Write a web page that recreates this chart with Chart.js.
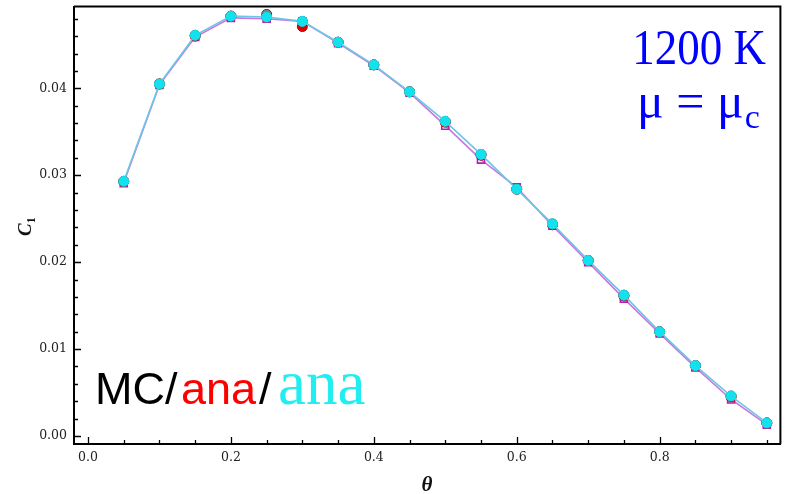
<!DOCTYPE html>
<html>
<head>
<meta charset="utf-8">
<script src="https://cdn.jsdelivr.net/npm/chart.js@4.4.0/dist/chart.umd.min.js"></script>
<style>
    html, body { margin: 0; padding: 0; background: #fff; }
    #wrap { width: 787px; height: 494px; }
</style>
</head>
<body>
<div id="wrap"><canvas id="c1Chart"></canvas></div>
<script>
// theta values and the four curves
const thetaValues = [0.05, 0.10, 0.15, 0.20, 0.25, 0.30, 0.35, 0.40, 0.45, 0.50,
                     0.55, 0.60, 0.65, 0.70, 0.75, 0.80, 0.85, 0.90, 0.95];
const anaCyanValues = [0.0293, 0.0405, 0.0461, 0.0483, 0.0482, 0.0477, 0.0453, 0.0427, 0.0396, 0.0362,
                       0.0324, 0.0284, 0.0244, 0.0202, 0.0162, 0.0120, 0.0081, 0.0046, 0.0015];
const anaRedValues = [0.0293, 0.0405, 0.0460, 0.0483, 0.0482, 0.0471, 0.0453, 0.0427, 0.0396, 0.0361,
                      0.0323, 0.0284, 0.0243, 0.0202, 0.0161, 0.0120, 0.0081, 0.0045, 0.0015];
const mcValues = [0.0293, 0.0405, 0.0461, 0.0483, 0.0485, 0.0477, 0.0453, 0.0427, 0.0396, 0.0362,
                  0.0324, 0.0284, 0.0244, 0.0202, 0.0162, 0.0120, 0.0081, 0.0046, 0.0015];
const squareValues = [0.0291, 0.0404, 0.0459, 0.0481, 0.0480, 0.0477, 0.0452, 0.0426, 0.0395, 0.0357,
                      0.0318, 0.0286, 0.0242, 0.0200, 0.0158, 0.0118, 0.0079, 0.0042, 0.0013];
const xTickValues = [0.0, 0.2, 0.4, 0.6, 0.8];
const yTickValues = [0.00, 0.01, 0.02, 0.03, 0.04];

function toPoints(values) {
    return thetaValues.map((t, i) => ({ x: t, y: values[i] }));
}

// inward ticks, frame and the text overlays
const decorPlugin = {
    id: 'decor',
    afterDraw(chart) {
        const ctx = chart.ctx;
        const area = chart.chartArea;
        const xs = chart.scales.x;
        const ys = chart.scales.y;

        ctx.save();
        ctx.strokeStyle = '#000';
        ctx.lineWidth = 2;
        ctx.beginPath();
        ctx.moveTo(area.left, area.top);
        ctx.lineTo(area.right, area.top);
        ctx.lineTo(area.right, area.bottom);
        ctx.stroke();

        ctx.lineWidth = 1.3;
        ctx.beginPath();
        for (let i = 0; i <= 19; i++) {
            const v = i * 0.05;
            const px = Math.round(xs.getPixelForValue(v)) + 0.5;
            const len = (i % 4 === 0) ? 7 : 4;
            ctx.moveTo(px, area.bottom);
            ctx.lineTo(px, area.bottom - len);
        }
        for (let i = 0; i <= 24; i++) {
            const v = i * 0.002;
            const py = Math.round(ys.getPixelForValue(v)) + 0.5;
            const len = (i % 5 === 0) ? 7 : 4;
            ctx.moveTo(area.left - 1, py);
            ctx.lineTo(area.left + len, py);
        }
        ctx.stroke();

        // axis titles
        ctx.fillStyle = '#111';
        ctx.save();
        ctx.translate(31, 228);
        ctx.rotate(-Math.PI / 2);
        ctx.font = 'italic bold 19px "Liberation Serif"';
        ctx.textBaseline = 'alphabetic';
        ctx.fillText('C', -8, 0);
        const cw = ctx.measureText('C').width;
        ctx.font = 'bold 12px "Liberation Serif"';
        ctx.fillText('1', -8 + cw, 4);
        ctx.restore();

        ctx.font = 'italic bold 21px "Liberation Serif"';
        ctx.textAlign = 'center';
        ctx.fillText('\u03b8', 427, 491);

        // temperature label
        ctx.fillStyle = '#0000ff';
        ctx.save();
        ctx.translate(766, 64);
        ctx.scale(1, 1.12);
        ctx.font = '45px "Liberation Serif"';
        ctx.textAlign = 'right';
        ctx.fillText('1200 K', 0, 0);
        ctx.restore();

        ctx.textAlign = 'left';
        ctx.font = '50px "Liberation Serif"';
        const muText = '\u03bc = \u03bc';
        ctx.fillText(muText, 637, 118);
        const muW = ctx.measureText(muText).width;
        ctx.font = '34px "Liberation Serif"';
        ctx.fillText('c', 637 + muW + 1, 128);

        // MC/ana/ana label
        const base = 404;
        const parts = [
            ['MC/', '#000', '45px "Liberation Sans"', 95],
            ['ana', '#ff0000', '45px "Liberation Sans"', 181],
            ['/', '#000', '45px "Liberation Sans"', 259],
            ['ana', '#22eef2', '63px "Liberation Serif"', 278]
        ];
        parts.forEach(p => {
            ctx.font = p[2];
            ctx.fillStyle = p[1];
            ctx.fillText(p[0], p[3], base);
        });
        ctx.restore();
    }
};

new Chart(document.getElementById('c1Chart'), {
    type: 'scatter',
    data: {
        datasets: [
            {
                label: 'ana (cyan)',
                data: toPoints(anaCyanValues),
                showLine: true,
                borderColor: '#6cc6e6',
                borderWidth: 1.6,
                pointStyle: 'circle',
                pointRadius: 5,
                pointBackgroundColor: '#12e2ee',
                pointBorderColor: '#12e2ee',
                pointBorderWidth: 1,
                order: 0
            },
            {
                label: 'ana (red)',
                data: toPoints(anaRedValues),
                showLine: false,
                pointRadius: 5,
                pointBackgroundColor: '#e00000',
                pointBorderColor: '#c00000',
                order: 1
            },
            {
                label: 'MC',
                data: toPoints(mcValues),
                showLine: false,
                pointRadius: 5,
                pointBackgroundColor: '#8a8a8a',
                pointBorderColor: '#333',
                pointBorderWidth: 1,
                order: 2
            },
            {
                label: 'squares',
                data: toPoints(squareValues),
                showLine: true,
                borderColor: '#c878dc',
                borderWidth: 1.6,
                pointStyle: 'rect',
                pointRadius: 5,
                pointBackgroundColor: 'rgba(255,255,255,0)',
                pointBorderColor: '#b81cb8',
                pointBorderWidth: 1.6,
                order: 3
            }
        ]
    },
    options: {
        responsive: true,
        maintainAspectRatio: false,
        animation: false,
        layout: { padding: { top: 6, right: 6, left: 0, bottom: 0 } },
        plugins: {
            legend: { display: false },
            tooltip: { enabled: false }
        },
        scales: {
            x: {
                type: 'linear',
                min: -0.0196,
                max: 0.969,
                afterBuildTicks: s => { s.ticks = xTickValues.map(v => ({ value: v })); },
                afterFit: s => { s.height = 50; s.paddingLeft = 0; s.paddingRight = 0; },
                grid: { display: false, drawTicks: false },
                border: { display: true, color: '#000', width: 2 },
                ticks: {
                    padding: 6,
                    color: '#222',
                    font: { family: 'DejaVu Serif', size: 12.5 },
                    callback: v => v.toFixed(1)
                }
            },
            y: {
                type: 'linear',
                min: -0.00092,
                max: 0.0494,
                afterBuildTicks: s => { s.ticks = yTickValues.map(v => ({ value: v })); },
                afterFit: s => { s.width = 74; s.paddingTop = 0; s.paddingBottom = 0; },
                grid: { display: false, drawTicks: false },
                border: { display: true, color: '#000', width: 2 },
                ticks: {
                    padding: 7,
                    color: '#222',
                    font: { family: 'DejaVu Serif', size: 12.5 },
                    callback: v => v.toFixed(2)
                }
            }
        }
    },
    plugins: [decorPlugin]
});
</script>
</body>
</html>
